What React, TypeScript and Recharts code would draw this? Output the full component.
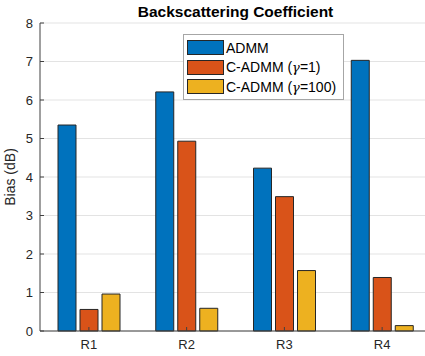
import { Bar, BarChart, CartesianGrid, Legend, XAxis, YAxis } from 'recharts';

const regions = ['R1', 'R2', 'R3', 'R4'];
const admm = [5.35, 6.21, 4.23, 7.03];
const cadmmG1 = [0.56, 4.93, 3.49, 1.39];
const cadmmG100 = [0.96, 0.59, 1.57, 0.14];
const yTicks = [0, 1, 2, 3, 4, 5, 6, 7, 8];

const data = regions.map((name, i) => ({
  name,
  admm: admm[i],
  g1: cadmmG1[i],
  g100: cadmmG100[i],
}));

const axisColor = '#404040';
const font = '"Liberation Sans", Arial, sans-serif';

// italic gamma like matlab's tex interpreter
const legendText = (s: string) => {
  const parts = s.split('γ');
  if (parts.length < 2) return s;
  return (
    <>
      {parts[0]}
      <i style={{ fontFamily: '"DejaVu Serif", serif', fontSize: 13 }}>γ</i>
      {parts[1]}
    </>
  );
};

const renderLegend = (props: any) => {
  const { payload } = props;
  return (
    <div
      style={{
        border: '1px solid #a6a6a6',
        background: '#fff',
        padding: '3px 0 2px 3px',
        width: 161,
        boxSizing: 'border-box',
      }}
    >
      {(payload || []).map((entry: any) => (
        <div key={entry.value} style={{ display: 'flex', alignItems: 'center', height: 19.5 }}>
          <span
            style={{
              width: 37,
              height: 15,
              background: entry.color,
              border: '1px solid #262626',
              boxSizing: 'border-box',
              marginRight: 2,
            }}
          />
          <span style={{ fontSize: 14, color: '#000', whiteSpace: 'nowrap' }}>{legendText(entry.value)}</span>
        </div>
      ))}
    </div>
  );
};

export default function App() {
  return (
    <div
      style={{
        position: 'absolute',
        left: 0,
        top: 0,
        width: 425,
        height: 356,
        overflow: 'hidden',
        background: '#fff',
        fontFamily: font,
      }}
    >
      <BarChart
        width={440}
        height={356}
        data={data}
        margin={{ top: 23, right: 9, bottom: 0, left: 0 }}
        barSize={18}
        barGap={4}
      >
        <CartesianGrid vertical={false} stroke="#e3e3e3" />
        <XAxis
          dataKey="name"
          height={25}
          stroke={axisColor}
          tickSize={-4}
          tickMargin={13}
          tick={{ fill: '#262626', fontSize: 13, fontFamily: font }}
        />
        <XAxis
          xAxisId="top"
          dataKey="name"
          orientation="top"
          height={0}
          stroke={axisColor}
          tickSize={-4}
          tick={false}
        />
        <YAxis
          width={40}
          domain={[0, 8]}
          ticks={yTicks}
          interval={0}
          stroke={axisColor}
          tickSize={-4}
          tickMargin={11}
          tick={{ fill: '#262626', fontSize: 13, fontFamily: font }}
          label={{
            content: (p: any) => {
              const vb = p.viewBox || { y: 23, height: 308 };
              const cy = vb.y + vb.height / 2;
              return (
                <text
                  x={15}
                  y={cy}
                  transform={`rotate(-90, 15, ${cy})`}
                  textAnchor="middle"
                  fontSize={14}
                  fill="#262626"
                  fontFamily={font}
                >
                  Bias (dB)
                </text>
              );
            },
          }}
        />
        <Legend
          layout="horizontal"
          verticalAlign="middle"
          align="center"
          content={renderLegend}
          wrapperStyle={{ top: 34, left: 183, width: 161 }}
        />
        <Bar dataKey="admm" name="ADMM" fill="#0072BD" stroke="#262626" strokeWidth={1} isAnimationActive={false} />
        <Bar dataKey="g1" name="C-ADMM (γ=1)" fill="#D95319" stroke="#262626" strokeWidth={1} isAnimationActive={false} />
        <Bar dataKey="g100" name="C-ADMM (γ=100)" fill="#EDB120" stroke="#262626" strokeWidth={1} isAnimationActive={false} />
        <text x={235.5} y={17} textAnchor="middle" fontSize={15.5} fontWeight="bold" fill="#000" fontFamily={font}>
          Backscattering Coefficient
        </text>
      </BarChart>
    </div>
  );
}
